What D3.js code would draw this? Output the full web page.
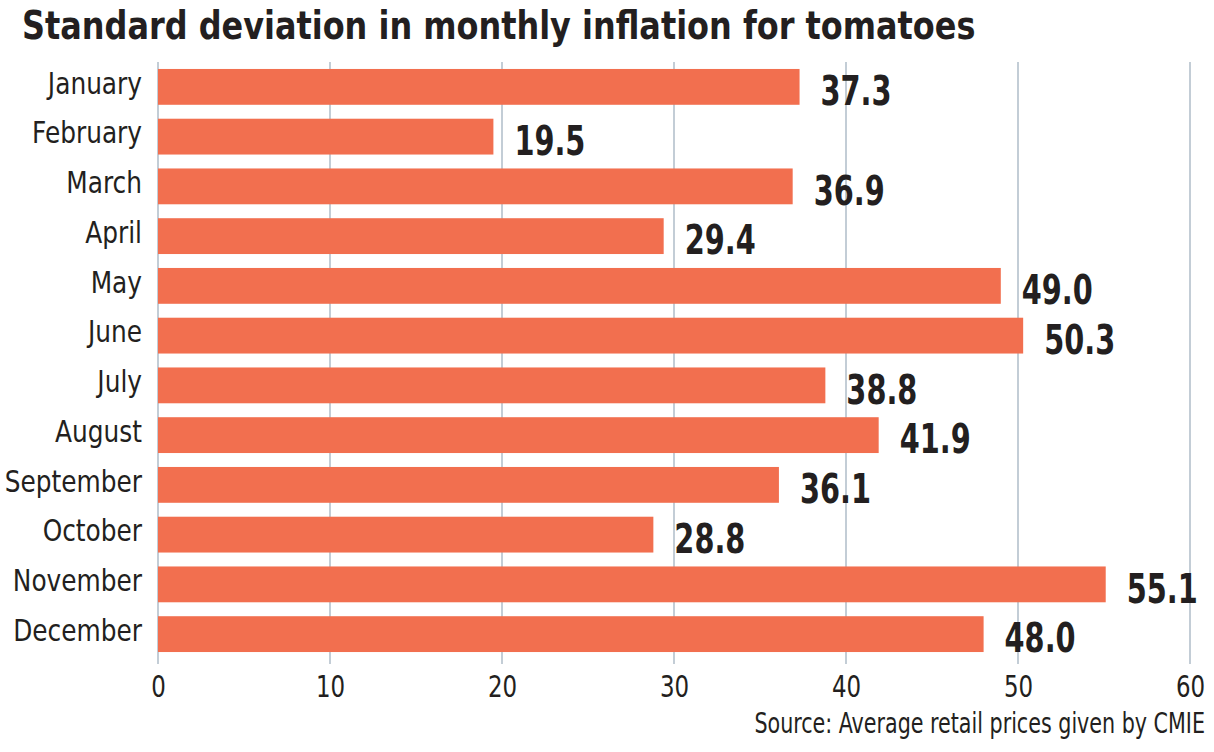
<!DOCTYPE html>
<html>
<head>
<meta charset="utf-8">
<script src="https://cdn.jsdelivr.net/npm/d3@7"></script>
<style>
    body { margin: 0; background: #fff; }
    svg text { font-family: "DejaVu Sans Condensed", "Liberation Sans Narrow", sans-serif; fill: #231f20; }
</style>
</head>
<body>
<div id="chart"></div>
<script>
// chart data
const months = ["January", "February", "March", "April", "May", "June",
    "July", "August", "September", "October", "November", "December"];
const stdDev = [37.3, 19.5, 36.9, 29.4, 49.0, 50.3, 38.8, 41.9, 36.1, 28.8, 55.1, 48.0];
const xTicks = [0, 10, 20, 30, 40, 50, 60];

const width = 1214, height = 752;

// squeeze text horizontally to mimic the condensed face
function condense(sel, factor) {
    sel.each(function () {
        let w = this.getComputedTextLength();
        d3.select(this)
            .attr("textLength", w * factor)
            .attr("lengthAdjust", "spacingAndGlyphs");
    });
}

let svg = d3.select("#chart").append("svg")
    .attr("width", width)
    .attr("height", height);

let x = d3.scaleLinear().domain([0, 60]).range([158, 1190]);
let y = d3.scaleBand().domain(months).range([62, 659])
    .paddingInner(0.28).paddingOuter(0.14);

// title
svg.append("text")
    .attr("x", 22).attr("y", 39)
    .attr("font-size", 39).attr("font-weight", "bold")
    .text("Standard deviation in monthly inflation for tomatoes")
    .call(condense, 0.91);

// gridlines
svg.append("g").selectAll("line")
    .data(xTicks)
    .enter().append("line")
    .attr("x1", d => x(d)).attr("x2", d => x(d))
    .attr("y1", 62).attr("y2", 664)
    .attr("stroke", "#c3cdd6")
    .attr("stroke-width", 2);

// x axis labels
let xAxis = d3.axisBottom(x).tickValues(xTicks).tickSize(0).tickPadding(0);
let gx = svg.append("g").attr("transform", "translate(0,670)").call(xAxis);
gx.attr("font-family", null).attr("font-size", null);
gx.select(".domain").remove();
gx.selectAll("text")
    .attr("font-size", 30)
    .attr("dy", "0.9em")
    .attr("fill", "#231f20")
    .call(condense, 0.85);

// bars
svg.append("g").selectAll("rect")
    .data(stdDev)
    .enter().append("rect")
    .attr("x", x(0))
    .attr("y", (d, i) => y(months[i]))
    .attr("width", d => x(d) - x(0))
    .attr("height", y.bandwidth())
    .attr("fill", "#f26f4f");

// month labels
svg.append("g").selectAll("text")
    .data(months)
    .enter().append("text")
    .attr("x", 142)
    .attr("y", d => y(d) + y.bandwidth() / 2 - 4)
    .attr("dy", "0.36em")
    .attr("text-anchor", "end")
    .attr("font-size", 30)
    .text(d => d)
    .call(condense, 0.92);

// value labels
svg.append("g").selectAll("text")
    .data(stdDev)
    .enter().append("text")
    .attr("x", d => x(d) + 21)
    .attr("y", (d, i) => y(months[i]) + y.bandwidth() / 2 + 3)
    .attr("dy", "0.37em")
    .attr("font-size", 41)
    .attr("font-weight", "bold")
    .text(d => d.toFixed(1))
    .call(condense, 0.78);

// source
svg.append("text")
    .attr("x", 1205).attr("y", 733)
    .attr("text-anchor", "end")
    .attr("font-size", 28)
    .text("Source: Average retail prices given by CMIE")
    .call(condense, 0.82);
</script>
</body>
</html>
